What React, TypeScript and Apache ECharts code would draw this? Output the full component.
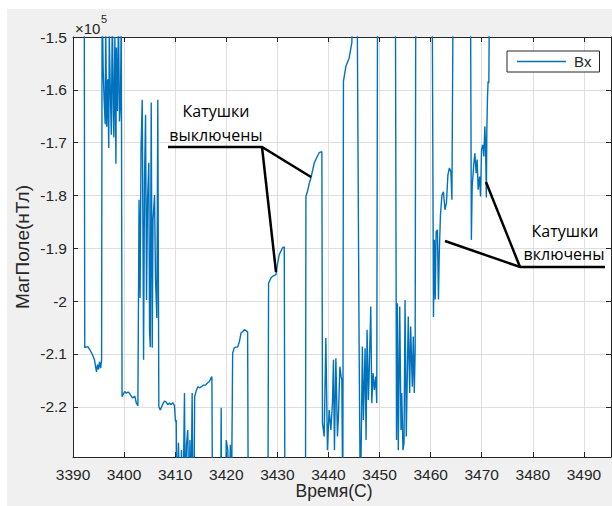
import React, { useEffect, useRef } from "react";
import * as echarts from "echarts";

// Time (s) and Bx (nT) samples.
// Values above -150000 / below -229500 are outside the visible window and get clipped.
const TIME_S: number[] = [
  3390.0, 3392.2, 3392.3, 3392.9, 3393.3, 3393.8, 3394.2, 3394.6, 3394.8, 3395.0, 3395.2, 3395.4, 3395.6, 3395.7,
  3395.9, 3396.1, 3396.3, 3396.4, 3396.6, 3396.8, 3397.0, 3397.1, 3397.3, 3397.5, 3397.7, 3397.9, 3398.0, 3398.2,
  3398.4, 3398.5, 3398.7, 3398.9, 3399.1, 3399.3, 3399.45,
  3399.6, 3400.1, 3400.4, 3400.8, 3401.1, 3401.4, 3401.7, 3402.1, 3402.4, 3402.7,
  3402.93, 3403.13, 3403.32, 3403.55, 3403.71, 3403.81, 3404.0, 3404.2, 3404.39, 3404.59, 3404.84, 3404.98, 3405.12,
  3405.31, 3405.51, 3405.66, 3405.96, 3406.15, 3406.41, 3406.6, 3406.8,
  3407.07, 3407.52, 3407.91, 3408.24, 3408.55, 3408.88, 3409.22, 3409.53, 3409.86, 3410.06,
  3410.2, 3410.35, 3410.64, 3410.94, 3411.23, 3411.52, 3411.82, 3411.97, 3412.21, 3412.46, 3412.7, 3412.89, 3413.09,
  3413.32, 3413.48, 3413.67, 3413.81,
  3414.16, 3414.45, 3414.75, 3415.14, 3415.53, 3415.92, 3416.31, 3416.7, 3417.03, 3417.19, 3417.3,
  3418.9, 3419.0, 3419.1, 3419.8, 3420.0, 3420.3, 3420.5, 3420.8, 3421.0,
  3421.25, 3421.58, 3421.91, 3422.23, 3422.56, 3422.89, 3423.2, 3423.54, 3424.18, 3424.3,
  3428.15, 3428.28, 3428.75, 3429.06, 3429.73, 3429.9, 3430.37, 3431.02, 3431.35, 3431.48,
  3435.5, 3435.59, 3435.9, 3436.24, 3436.56, 3437.21, 3437.66, 3438.18, 3438.71,
  3438.83, 3439.16, 3439.49, 3439.8, 3440.14, 3440.47, 3440.78, 3440.98, 3441.17, 3441.45, 3441.76, 3441.95, 3442.23,
  3442.48, 3442.62, 3442.81,
  3442.93, 3443.4, 3444.04, 3444.57, 3445.02,
  3445.6, 3446.0, 3446.25, 3446.64, 3446.84, 3447.17, 3447.36, 3447.56, 3447.81, 3447.95, 3448.28, 3448.48, 3448.73,
  3448.98, 3449.26, 3449.45, 3449.61,
  3453.1, 3453.32, 3453.48, 3453.67, 3453.95, 3454.2, 3454.34, 3454.59, 3454.79, 3454.99, 3455.23, 3455.62, 3455.9,
  3456.09, 3456.41, 3456.6, 3456.8, 3456.97, 3457.09,
  3460.3, 3460.55, 3460.74, 3460.9, 3461.07, 3461.33, 3461.53, 3461.68, 3461.92, 3462.21, 3462.5, 3462.8, 3463.09,
  3463.38, 3463.67, 3463.96, 3464.16, 3464.41,
  3467.8, 3467.97, 3468.13, 3468.46, 3468.65, 3468.91, 3469.1, 3469.3, 3469.57, 3469.77, 3469.96, 3470.22, 3470.41,
  3470.61, 3470.74, 3470.9, 3471.0, 3471.13, 3471.25, 3471.39, 3471.52, 3495.3,
];

const BX_NT: number[] = [
  -140000, -140000, -208800, -208600, -209200, -210100, -211100, -213400, -212000, -212900, -211500, -212700, -211100, -140000,
  -156000, -162000, -166500, -148000, -167000, -158000, -171000, -149000, -160000, -168500, -145000, -165000, -169000, -150000,
  -174000, -152000, -164000, -146000, -166000, -162000, -145000,
  -218100, -217100, -217400, -217200, -217500, -218000, -218300, -218000, -219300, -219800,
  -180800, -199400, -171300, -161900, -190300, -211100, -177000, -164700, -199800, -180800, -173800, -205400, -208700,
  -162400, -208800, -184600, -179900, -196000, -203200, -161900, -220000,
  -220600, -219600, -218900, -219100, -219600, -219300, -219600, -219200, -219800, -222800,
  -222500, -240000, -226800, -240000, -228200, -240000, -217400, -240000, -227200, -224400, -240000, -226300, -240000,
  -217400, -240000, -240000, -218100,
  -216800, -216200, -216400, -216200, -215900, -215900, -215500, -215200, -214500, -214300, -240000,
  -240000, -220200, -240000, -240000, -226300, -228200, -240000, -227200, -240000,
  -209800, -208800, -208700, -208700, -207700, -206000, -205800, -205400, -205800, -240000,
  -240000, -196600, -195600, -195300, -195000, -193700, -191200, -189900, -189700, -240000,
  -240000, -180200, -179200, -177700, -176700, -173900, -172900, -171900, -171700,
  -223100, -225600, -207000, -228200, -220600, -224400, -219300, -211100, -228200, -210800, -225600, -221900, -212400,
  -214300, -214900, -240000,
  -158400, -155600, -154000, -151100, -140000,
  -140000, -208300, -240000, -208600, -222500, -208900, -226300, -205400, -218700, -214300, -201000, -219300, -213600,
  -216800, -214300, -219300, -140000,
  -140000, -226300, -200400, -228200, -201000, -224400, -217400, -228200, -226800, -199800, -225600, -202900, -217400,
  -204800, -216200, -206700, -217400, -209200, -140000,
  -140000, -203000, -188400, -199700, -186900, -186500, -199700, -191200, -183700, -179900, -179300, -182700, -181400,
  -176100, -174800, -175500, -180800, -140000,
  -140000, -188400, -178300, -173900, -172000, -175800, -173200, -178900, -176400, -180200, -171300, -170400, -172600,
  -166900, -170100, -180400, -167600, -161300, -158400, -158700, -140000, -140000,
];

const SERIES_NAME = "Bx";
const X_MIN = 3390;
const X_MAX = 3495.3;
const Y_MIN = -229500;
const Y_MAX = -150000;
const X_TITLE = "Время(С)";
const Y_TITLE = "МагПоле(нТл)";
const ANNOT_OFF = ["Катушки", "выключены"];
const ANNOT_ON = ["Катушки", "включены"];

const FONT = "'Liberation Sans', Arial, Helvetica, sans-serif";
const NOTE_FONT = "'Open Sans', 'Noto Sans', sans-serif";
const INK = "#262626";
const LINE_COLOR = "#0072BD";

export default function App() {
  const ref = useRef<HTMLDivElement>(null);

  useEffect(() => {
    if (!ref.current) return;
    const chart = echarts.init(ref.current, undefined, { renderer: "svg" });

    const data = TIME_S.map((t, i) => [t, BX_NT[i]]);

    const axisCommon = {
      axisLine: { show: true, lineStyle: { color: INK, width: 1 } },
      axisTick: { show: true, inside: true, length: 5, lineStyle: { color: INK, width: 1 } },
    };

    const yFmt = (v: number) => String(Math.round(v / 1e4) / 10);

    const noteText = (text: string, x: number, y: number) => ({
      type: "text",
      x,
      y,
      z: 100,
      style: {
        text,
        fill: "#000",
        fontSize: 16,
        fontFamily: NOTE_FONT,
        align: "center",
        verticalAlign: "middle",
      },
    });

    const option: any = {
      animation: false,
      backgroundColor: "#f0f0f0",
      grid: {
        left: 73,
        right: 1,
        top: 37,
        bottom: 49,
        show: true,
        backgroundColor: "#ffffff",
        borderWidth: 0,
        containLabel: false,
      },
      legend: {
        data: [{ name: SERIES_NAME, icon: "rect" }],
        left: 507,
        top: 51,
        padding: [3, 8, 3, 10],
        itemWidth: 49,
        itemHeight: 1.5,
        itemGap: 0,
        backgroundColor: "#ffffff",
        borderColor: INK,
        borderWidth: 1,
        borderRadius: 0,
        itemStyle: { color: LINE_COLOR, borderWidth: 0 },
        textStyle: { fontSize: 15, fontFamily: FONT, color: INK, padding: [0, 0, 0, 3] },
      },
      xAxis: [
        {
          type: "value",
          min: X_MIN,
          max: X_MAX,
          splitNumber: 10,
          position: "bottom",
          ...axisCommon,
          axisLabel: {
            show: true,
            margin: 9,
            fontSize: 15.5,
            fontFamily: FONT,
            color: INK,
            showMaxLabel: false,
            formatter: (v: number) => String(v),
          },
          splitLine: { show: true, lineStyle: { color: "#dedede", width: 1 } },
        },
        {
          type: "value",
          min: X_MIN,
          max: X_MAX,
          splitNumber: 10,
          position: "top",
          ...axisCommon,
          axisLabel: { show: false },
          splitLine: { show: false },
        },
      ],
      yAxis: [
        {
          type: "value",
          min: Y_MIN,
          max: Y_MAX,
          splitNumber: 8,
          position: "left",
          ...axisCommon,
          axisLabel: {
            show: true,
            margin: 6,
            fontSize: 15.5,
            fontFamily: FONT,
            color: INK,
            showMinLabel: false,
            formatter: yFmt,
          },
          splitLine: { show: true, lineStyle: { color: "#dedede", width: 1 } },
        },
        {
          type: "value",
          min: Y_MIN,
          max: Y_MAX,
          splitNumber: 8,
          position: "right",
          ...axisCommon,
          axisLabel: { show: false },
          splitLine: { show: false },
        },
      ],
      series: [
        {
          name: SERIES_NAME,
          type: "line",
          xAxisIndex: 0,
          yAxisIndex: 0,
          data,
          symbol: "none",
          showSymbol: false,
          clip: true,
          lineStyle: { color: LINE_COLOR, width: 1.4 },
          itemStyle: { color: LINE_COLOR },
        },
      ],
      graphic: [
        { type: "rect", shape: { x: 0, y: 0, width: 612, height: 9 }, style: { fill: "#ffffff" }, z: 1 },
        { type: "rect", shape: { x: 0, y: 0, width: 7, height: 506 }, style: { fill: "#ffffff" }, z: 1 },
        {
          type: "text",
          x: 75,
          y: 28,
          style: { text: "×10", fill: INK, fontSize: 15, fontFamily: FONT, align: "left", verticalAlign: "middle" },
        },
        {
          type: "text",
          x: 101,
          y: 19,
          style: { text: "5", fill: INK, fontSize: 11, fontFamily: FONT, align: "left", verticalAlign: "middle" },
        },
        {
          type: "text",
          x: 22,
          y: 247,
          rotation: Math.PI / 2,
          style: { text: Y_TITLE, fill: INK, fontSize: 19, fontFamily: FONT, align: "center", verticalAlign: "middle" },
        },
        {
          type: "text",
          x: 334,
          y: 491,
          style: { text: X_TITLE, fill: INK, fontSize: 17.5, fontFamily: FONT, align: "center", verticalAlign: "middle" },
        },
        noteText(ANNOT_OFF[0], 216, 111),
        noteText(ANNOT_OFF[1], 216, 135),
        noteText(ANNOT_ON[0], 565, 231),
        noteText(ANNOT_ON[1], 564, 254),
        {
          type: "polyline",
          z: 100,
          shape: { points: [[168, 147], [262, 147], [311, 177]] },
          style: { stroke: "#000", lineWidth: 2.5, fill: "none" },
        },
        {
          type: "line",
          z: 100,
          shape: { x1: 262, y1: 147, x2: 276, y2: 272 },
          style: { stroke: "#000", lineWidth: 2.5 },
        },
        {
          type: "polyline",
          z: 100,
          shape: { points: [[605, 267], [520, 267], [445, 241]] },
          style: { stroke: "#000", lineWidth: 2.5, fill: "none" },
        },
        {
          type: "line",
          z: 100,
          shape: { x1: 520, y1: 267, x2: 486, y2: 182 },
          style: { stroke: "#000", lineWidth: 2.5 },
        },
      ],
    };

    chart.setOption(option);
    return () => chart.dispose();
  }, []);

  return (
    <div
      ref={ref}
      style={{ position: "absolute", left: 0, top: 0, width: 612, height: 506 }}
    />
  );
}
